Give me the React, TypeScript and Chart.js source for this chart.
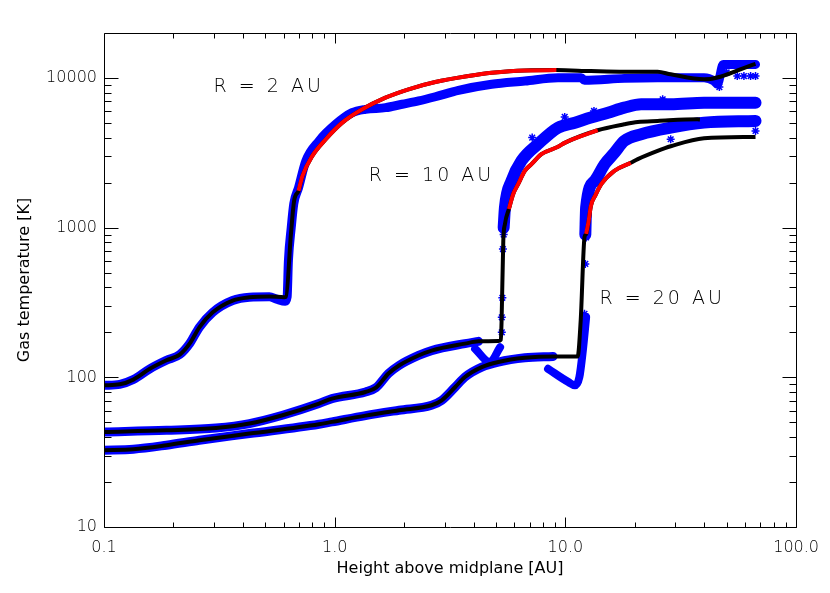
import React, { useEffect, useRef } from 'react';
import { Chart, registerables } from 'chart.js';

Chart.register(...registerables);

// ---------- R = 2 AU ----------
const r2LowH = [0.1, 0.117, 0.134, 0.158, 0.1865, 0.213, 0.235, 0.259, 0.296, 0.361, 0.427, 0.521, 0.604, 0.615, 0.646, 0.667, 0.697];
const r2LowT = [88.5, 89.8, 96.6, 114, 130, 142, 168, 216, 272, 326, 343, 347, 343, 345, 907, 1514, 1765];
const r2RedH = [0.697, 0.725, 0.8, 0.915, 1.079, 1.316, 1.66, 2.09, 2.73, 3.8, 4.79, 6.67, 9.14];
const r2RedT = [1765, 2222, 3020, 3902, 5035, 6180, 7390, 8410, 9400, 10310, 10840, 11250, 11300];
const r2TopH = [9.14, 12.9, 18.0, 25.1, 28.6, 39.9, 66.7];
const r2TopT = [11300, 11130, 11020, 11020, 10590, 9800, 12450];
const r2ModelH = [0.1, 0.117, 0.134, 0.158, 0.1865, 0.213, 0.235, 0.259, 0.296, 0.361, 0.427, 0.521, 0.56, 0.61, 0.622, 0.63, 0.648, 0.665, 0.697, 0.75, 0.855, 1.01, 1.19, 1.36, 1.66, 1.96, 2.31, 2.73, 3.44, 4.79, 6.67, 9.29, 11.7, 12.1, 18.0, 25.1, 39.9, 44.1, 45.6, 48.3, 66.7];
const r2ModelT = [88.5, 89.8, 96.6, 114, 130, 142, 168, 216, 272, 326, 343, 345, 333, 322, 345, 600, 1000, 1450, 1850, 2800, 3800, 4910, 5870, 6180, 6340, 6680, 7030, 7500, 8280, 9080, 9550, 10050, 10050, 9660, 9950, 10050, 10050, 9550, 9080, 12340, 12340];

// ---------- R = 10 AU ----------
const r10LowH = [0.1, 0.1865, 0.306, 0.427, 0.594, 0.855, 0.973, 1.36, 1.51, 1.71, 1.9, 2.31, 2.63, 3.67, 4.2, 5.12, 5.25, 5.29, 5.38, 5.47, 5.69];
const r10LowT = [43.2, 44.3, 45.9, 49.1, 55.8, 66.8, 72.1, 79.8, 85.3, 106, 120, 140, 151, 168, 174, 175, 178, 240, 818, 1059, 1333];
const r10RedH = [5.69, 5.94, 6.24, 6.67, 7.13, 7.87, 9.29, 9.93, 13.8];
const r10RedT = [1333, 1678, 1955, 2399, 2660, 3100, 3470, 3690, 4480];
const r10TopH = [13.8, 18.0, 20.6, 25.1, 37.3, 38.3];
const r10TopT = [4480, 4910, 5090, 5170, 5300, 5290];
const r10ModelLowH = [0.1, 0.1865, 0.306, 0.427, 0.594, 0.855, 0.973, 1.36, 1.51, 1.71, 1.9, 2.31, 2.63, 3.67, 4.2];
const r10ModelLowT = [43.2, 44.3, 45.9, 49.1, 55.8, 66.8, 72.1, 79.8, 85.3, 106, 120, 140, 151, 168, 174];
const r10ModelDipH = [4.06, 4.71, 5.21];
const r10ModelDipT = [155, 126.5, 159];
const r10ModelUpH = [5.4, 5.47, 5.84, 6.45, 7.62, 9.29, 11.0, 12.9, 15.3, 18.0, 21.3, 28.6, 39.9, 66.7];
const r10ModelUpT = [1000, 1366, 2058, 2800, 3630, 4660, 5035, 5440, 5870, 6340, 6680, 6680, 6850, 6850];

// ---------- R = 20 AU ----------
const r20LowH = [0.1, 0.134, 0.1865, 0.259, 0.427, 0.855, 0.973, 1.36, 1.9, 2.63, 2.91, 3.33, 3.67, 4.34, 5.12, 6.67, 8.84, 11.3, 11.65, 12.1, 12.3];
const r20LowT = [32.6, 33.1, 35.2, 38.0, 42.1, 48.6, 50.4, 55.5, 60.3, 65.1, 70.2, 86.2, 100.5, 117, 126.5, 135, 138, 138, 240, 861, 908];
const r20RedH = [12.3, 12.6, 12.9, 13.5, 14.3, 16.3, 19.2];
const r20RedT = [908, 1100, 1400, 1650, 1955, 2399, 2713];
const r20TopH = [19.2, 20.6, 25.1, 28.6, 39.9, 66.7];
const r20TopT = [2713, 2870, 3260, 3500, 3960, 4040];
const r20ModelLowH = [0.1, 0.134, 0.1865, 0.259, 0.427, 0.855, 0.973, 1.36, 1.9, 2.63, 2.91, 3.33, 3.67, 4.34, 5.12, 6.67, 8.84];
const r20ModelLowT = [32.6, 33.1, 35.2, 38.0, 42.1, 48.6, 50.4, 55.5, 60.3, 65.1, 70.2, 86.2, 100.5, 117, 126.5, 135, 138];
const r20ModelDipH = [8.41, 10.3, 11.0, 11.5, 11.9, 12.3];
const r20ModelDipT = [114, 93, 88.4, 100.5, 151, 252];
const r20ModelUpH = [12.2, 12.3, 13.4, 14.8, 16.3, 18.0, 21.3, 28.6, 39.9, 66.7];
const r20ModelUpT = [900, 1366, 2058, 2660, 3160, 3800, 4210, 4660, 5035, 5170];

// ---------- isolated model points ----------
const strayH = [55.6, 59.4, 63.5, 66.7, 7.08, 7.18, 9.93, 13.3, 26.4, 28.6, 66.7, 5.3, 5.3, 5.33, 5.36, 5.4, 12.1, 12.2, 12.3, 46.5, 50.0];
const strayT = [10310, 10310, 10310, 10310, 3350, 4000, 5500, 6030, 7210, 3900, 4430, 200, 252, 340, 720, 900, 266, 573, 861, 8700, 10900];

// ---------- axes ----------
const xMajorValues = [0.1, 1, 10, 100];
const xMajorLabels = ['0.1', '1.0', '10.0', '100.0'];
const yMajorValues = [10, 100, 1000, 10000];
const yMajorLabels = ['10', '100', '1000', '10000'];
const mantissas = [1, 2, 3, 4, 5, 6, 7, 8, 9];
const xTickValues = [0.1, 1, 10].flatMap((d) => mantissas.map((m) => +(m * d).toPrecision(6))).concat([100]);
const yTickValues = [10, 100, 1000].flatMap((d) => mantissas.map((m) => m * d)).concat([10000]);

// ---------- annotations ----------
const noteText = ['R = 2 AU', 'R = 10 AU', 'R = 20 AU'];
const noteH = [0.2985, 1.406, 14.06];
const noteT = [8670, 2222, 331];

const FONT = '"DejaVu Sans", "Liberation Sans", sans-serif';
const BLUE = 'rgb(0,0,255)';
const RED = 'rgb(255,0,0)';

const zip = (xs: number[], ys: number[]) => xs.map((x, i) => ({ x, y: ys[i] }));
const isMajor = (v: number) => Math.abs(Math.log10(v) - Math.round(Math.log10(v))) < 1e-9;

const lineDs = (data: any[], color: string, width: number, order: number) => ({
  data,
  showLine: true,
  borderColor: color,
  backgroundColor: color,
  borderWidth: width,
  pointRadius: 0,
  cubicInterpolationMode: 'monotone',
  order,
});

const modelDs = (data: any[], width: number) => ({
  data,
  showLine: true,
  borderColor: BLUE,
  backgroundColor: BLUE,
  borderWidth: width,
  borderJoinStyle: 'round',
  borderCapStyle: 'round',
  pointRadius: 0,
  cubicInterpolationMode: 'monotone',
  order: 2,
});

const framePlugin = {
  id: 'frame',
  afterDatasetsDraw(chart: any) {
    const { ctx, chartArea: a } = chart;
    const xs = chart.scales.x;
    const ys = chart.scales.y;
    ctx.save();
    ctx.strokeStyle = '#000';
    ctx.lineWidth = 1;
    const L = Math.round(a.left) + 0.5;
    const R = Math.round(a.right) + 0.5;
    const T = Math.round(a.top) + 0.5;
    const B = Math.round(a.bottom) + 0.5;
    ctx.beginPath();
    ctx.rect(L, T, R - L, B - T);
    for (const v of xTickValues) {
      const p = Math.round(xs.getPixelForValue(v)) + 0.5;
      const len = isMajor(v) ? 10 : 5;
      ctx.moveTo(p, B); ctx.lineTo(p, B - len);
      ctx.moveTo(p, T); ctx.lineTo(p, T + len);
    }
    for (const v of yTickValues) {
      const p = Math.round(ys.getPixelForValue(v)) + 0.5;
      const len = isMajor(v) ? 14 : 7;
      ctx.moveTo(L, p); ctx.lineTo(L + len, p);
      ctx.moveTo(R, p); ctx.lineTo(R - len, p);
    }
    ctx.stroke();
    ctx.fillStyle = '#000';
    ctx.font = `200 19px ${FONT}`;
    ctx.textAlign = 'left';
    ctx.textBaseline = 'middle';
    (ctx as any).letterSpacing = '3px';
    noteText.forEach((t, i) => {
      ctx.fillText(t, xs.getPixelForValue(noteH[i]), ys.getPixelForValue(noteT[i]));
    });
    ctx.restore();
  },
};

export default function App() {
  const ref = useRef<HTMLCanvasElement>(null);
  useEffect(() => {
    document.body.style.margin = '0';
    document.body.style.overflow = 'hidden';
    const canvas = ref.current!;
    const blackR2 = zip(r2LowH.concat(r2RedH.slice(1), r2TopH.slice(1)), r2LowT.concat(r2RedT.slice(1), r2TopT.slice(1)));
    const blackR10 = zip(r10LowH.concat(r10RedH.slice(1), r10TopH.slice(1)), r10LowT.concat(r10RedT.slice(1), r10TopT.slice(1)));
    const blackR20 = zip(r20LowH.concat(r20RedH.slice(1), r20TopH.slice(1)), r20LowT.concat(r20RedT.slice(1), r20TopT.slice(1)));
    const chart = new Chart(canvas, {
      type: 'scatter',
      data: {
        datasets: [
          lineDs(zip(r2RedH, r2RedT), RED, 4, 0),
          lineDs(zip(r10RedH, r10RedT), RED, 4, 0),
          lineDs(zip(r20RedH, r20RedT), RED, 4, 0),
          lineDs(blackR2, '#000', 4, 1),
          lineDs(blackR10, '#000', 4, 1),
          lineDs(blackR20, '#000', 4, 1),
          modelDs(zip(r2ModelH, r2ModelT), 9),
          modelDs(zip(r10ModelLowH, r10ModelLowT), 9),
          modelDs(zip(r10ModelDipH, r10ModelDipT), 8),
          modelDs(zip(r10ModelUpH, r10ModelUpT), 12),
          modelDs(zip(r20ModelLowH, r20ModelLowT), 9),
          modelDs(zip(r20ModelDipH, r20ModelDipT), 8),
          modelDs(zip(r20ModelUpH, r20ModelUpT), 12),
          {
            data: zip(strayH, strayT),
            showLine: false,
            pointStyle: 'star',
            pointRadius: 4,
            pointBorderWidth: 1.5,
            pointBorderColor: BLUE,
            backgroundColor: BLUE,
            order: 3,
          },
        ] as any,
      },
      options: {
        responsive: false,
        animation: false,
        devicePixelRatio: 1,
        events: [],
        layout: { padding: { left: 0, top: 33, right: 31, bottom: 0 } },
        plugins: { legend: { display: false }, tooltip: { enabled: false } },
        scales: {
          x: {
            type: 'logarithmic',
            min: 0.1,
            max: 100,
            grid: { display: false, drawTicks: false },
            border: { display: false },
            afterBuildTicks: (s: any) => { s.ticks = xTickValues.map((v) => ({ value: v, major: isMajor(v) })); },
            afterFit: (s: any) => { s.height = 66; },
            ticks: {
              autoSkip: false,
              maxRotation: 0,
              minRotation: 0,
              padding: 11,
              color: '#000',
              font: { family: FONT, size: 16, weight: '200' as any },
              callback: (value: any) => {
                const i = xMajorValues.findIndex((v) => Math.abs(v - value) / v < 1e-6);
                return i >= 0 ? xMajorLabels[i] : '';
              },
            },
            title: {
              display: true,
              text: 'Height above midplane [AU]',
              color: '#000',
              font: { family: FONT, size: 16, weight: 'normal' as any },
              padding: { top: 0, bottom: 15 },
            },
          },
          y: {
            type: 'logarithmic',
            min: 10,
            max: 20000,
            grid: { display: false, drawTicks: false },
            border: { display: false },
            afterBuildTicks: (s: any) => { s.ticks = yTickValues.map((v) => ({ value: v, major: isMajor(v) })); },
            afterFit: (s: any) => { s.width = 104; },
            ticks: {
              autoSkip: false,
              padding: 7,
              color: '#000',
              font: { family: FONT, size: 16, weight: '200' as any },
              callback: (value: any) => {
                const i = yMajorValues.findIndex((v) => Math.abs(v - value) / v < 1e-6);
                return i >= 0 ? yMajorLabels[i] : '';
              },
            },
            title: {
              display: true,
              text: 'Gas temperature [K]',
              color: '#000',
              font: { family: FONT, size: 16, weight: 'normal' as any },
              padding: { top: 15, bottom: 0 },
            },
          },
        },
      } as any,
      plugins: [framePlugin],
    });
    return () => chart.destroy();
  }, []);
  return (
    <div style={{ width: 830, height: 593 }}>
      <canvas ref={ref} width={830} height={593} style={{ display: 'block' }} />
    </div>
  );
}
